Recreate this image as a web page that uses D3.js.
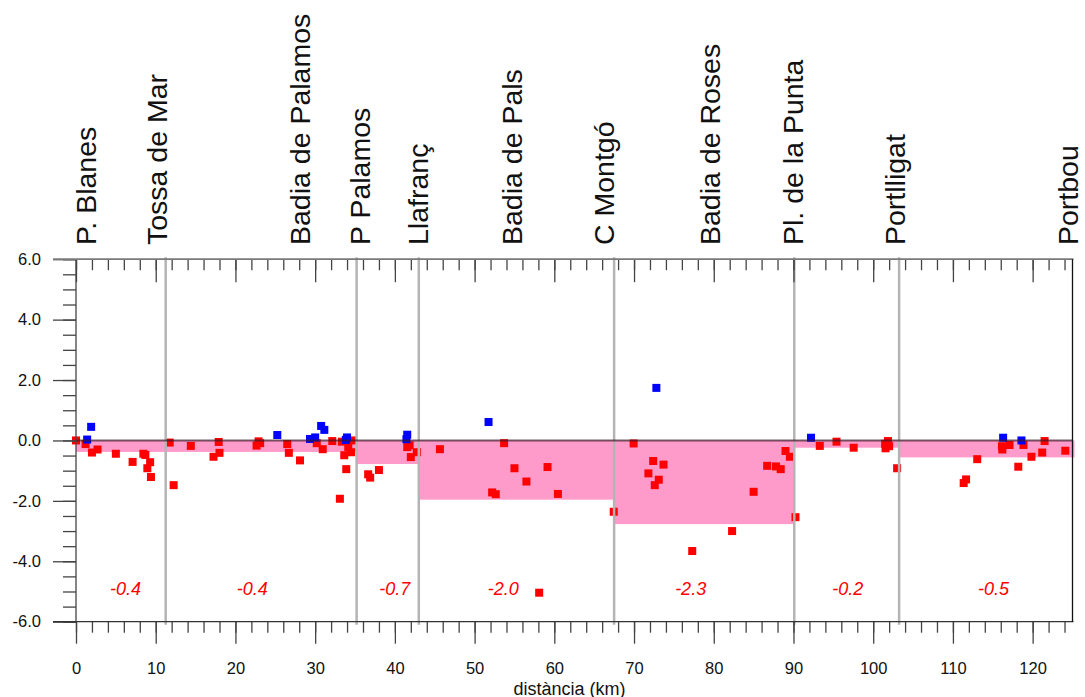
<!DOCTYPE html>
<html>
<head>
<meta charset="utf-8">
<script src="https://cdn.jsdelivr.net/npm/d3@7/dist/d3.min.js"></script>
<style>
  html, body { margin: 0; padding: 0; background: #fff; }
  svg { display: block; font-family: "Liberation Sans", Arial, sans-serif; }
</style>
</head>
<body>
<svg id="chart" width="1085" height="697"></svg>
<script>
// Place names along the coast and their distance (km)
const placeNames = ["P. Blanes", "Tossa de Mar", "Badia de Palamos", "P Palamos", "Llafranç",
  "Badia de Pals", "C Montgó", "Badia de Roses", "Pl. de la Punta", "Portlligat", "Portbou"];
const placeKm = [2.5, 11.4, 29.4, 36.9, 44.2, 56.0, 67.5, 80.8, 91.2, 104.0, 125.7];

// Segment boundaries (km)
const boundaryKm = [11.25, 35.2, 43.0, 67.5, 90.1, 103.25];

// Shaded level per stretch: start km, end km, level
const bandStart = [0, 35.2, 43.0, 67.5, 90.1, 103.25];
const bandEnd = [35.2, 43.0, 67.5, 90.1, 103.25, 125];
const bandLevel = [-0.38, -0.78, -1.96, -2.77, -0.24, -0.56];

// Rate written in each segment and where it is written (km)
const rateText = ["-0.4", "-0.4", "-0.7", "-2.0", "-2.3", "-0.2", "-0.5"];
const rateKm = [6.2, 22.1, 40.0, 53.6, 77.1, 96.8, 115.1];

// Negative changes (red)
const lossKm = [0.0, 1.2, 2.0, 2.7, 5.0, 7.1, 8.45, 8.7, 9.3, 8.95, 9.4, 11.75, 12.25, 14.4, 17.9, 18.0, 17.25,
  22.9, 23.1, 22.65, 26.5, 26.7, 28.1, 30.2, 30.95, 32.15, 33.35, 34.6, 34.15, 34.5, 33.65, 33.9, 33.1,
  36.65, 36.9, 38.0, 41.55, 41.85, 42.0, 42.75, 45.65, 53.7, 55.0, 56.5, 59.15, 52.2, 52.65, 60.45, 58.1,
  67.45, 69.95, 72.4, 73.7, 71.8, 73.1, 72.6, 77.3, 82.3, 85.0, 86.7, 87.8, 88.4, 89.0, 89.55, 90.25,
  93.3, 95.4, 97.55, 101.5, 101.85, 101.55, 102.0, 103.0, 113.05, 111.65, 111.35, 116.15, 116.2, 117.1,
  118.85, 118.2, 119.85, 121.2, 121.5, 124.1];
const lossVal = [0.0, -0.12, -0.40, -0.30, -0.44, -0.71, -0.44, -0.48, -0.72, -0.92, -1.21, -0.07, -1.48, -0.18, -0.05, -0.41, -0.54,
  -0.03, -0.09, -0.17, -0.12, -0.41, -0.66, -0.09, -0.29, -0.02, -0.04, 0.0, -0.22, -0.39, -0.49, -0.95, -1.93,
  -1.12, -1.23, -0.98, -0.22, -0.16, -0.55, -0.39, -0.29, -0.09, -0.92, -1.36, -0.88, -1.72, -1.78, -1.77, -5.04,
  -2.36, -0.10, -0.68, -0.80, -1.09, -1.30, -1.48, -3.66, -3.00, -1.70, -0.84, -0.86, -0.95, -0.35, -0.54, -2.54,
  -0.18, -0.04, -0.24, -0.11, -0.02, -0.26, -0.19, -0.92, -0.62, -1.29, -1.41, -0.19, -0.30, -0.15,
  -0.15, -0.87, -0.54, -0.40, -0.02, -0.34];

// Positive changes (blue)
const gainKm = [1.4, 1.9, 25.25, 29.35, 30.0, 30.75, 31.15, 34.0, 33.85, 41.55, 41.45, 51.75, 72.8, 92.2, 116.3, 118.6];
const gainVal = [0.03, 0.45, 0.18, 0.05, 0.10, 0.48, 0.35, 0.10, 0.02, 0.19, 0.04, 0.61, 1.74, 0.09, 0.09, 0.00];

const xMajor = d3.range(0, 121, 10);
const xMinor = d3.range(0, 125, 2);
const yMajor = [-6, -4, -2, 0, 2, 4, 6];
const yMinor = d3.range(-6, 6.01, 0.5);

const svg = d3.select("#chart");
const plotLeft = 76, plotRight = 1072.5, plotTop = 259.2, plotBottom = 621.7;

const x = d3.scaleLinear().domain([0, 125]).range([plotLeft, plotRight]);
const y = d3.scaleLinear().domain([-6, 6]).range([plotBottom, plotTop]);

// Shaded bands from zero down to each stretch's level
svg.append("g").selectAll("rect")
  .data(bandLevel.map((v, i) => ({ a: bandStart[i], b: bandEnd[i], v })))
  .join("rect")
  .attr("x", d => x(d.a))
  .attr("width", d => x(d.b) - x(d.a) + (d.b === 125 ? 2 : 0))
  .attr("y", y(0))
  .attr("height", d => y(d.v) - y(0))
  .attr("fill", "#ff9bcb");

// Points
const sq = 8;
svg.append("g").selectAll("rect")
  .data(lossKm.map((k, i) => [k, lossVal[i]]))
  .join("rect")
  .attr("x", d => x(d[0]) - sq / 2)
  .attr("y", d => y(d[1]) - sq / 2)
  .attr("width", sq).attr("height", sq)
  .attr("fill", "#ff0000");
svg.append("g").selectAll("rect")
  .data(gainKm.map((k, i) => [k, gainVal[i]]))
  .join("rect")
  .attr("x", d => x(d[0]) - sq / 2)
  .attr("y", d => y(d[1]) - sq / 2)
  .attr("width", sq).attr("height", sq)
  .attr("fill", "#0000ff");

// Segment dividers
svg.append("g").selectAll("line")
  .data(boundaryKm)
  .join("line")
  .attr("x1", d => x(d)).attr("x2", d => x(d))
  .attr("y1", plotTop - 2).attr("y2", plotBottom + 3)
  .attr("stroke", "#b4b4b4").attr("stroke-width", 2.5);

// Zero line
svg.append("line")
  .attr("x1", plotLeft).attr("x2", plotRight)
  .attr("y1", y(0)).attr("y2", y(0))
  .attr("stroke", "#3a1a28").attr("stroke-opacity", 0.7).attr("stroke-width", 2);

// Axes
const tickColor = "#444";
const fmt = d => d.toFixed(1);

// left: outward ticks
const gLeftMinor = svg.append("g").attr("transform", `translate(${plotLeft},0)`)
  .call(d3.axisLeft(y).tickValues(yMinor).tickSize(13).tickFormat(""));
const gLeft = svg.append("g").attr("transform", `translate(${plotLeft},0)`)
  .call(d3.axisLeft(y).tickValues(yMajor).tickSize(23).tickPadding(12).tickFormat(fmt));

// bottom: outward ticks
const gBotMinor = svg.append("g").attr("transform", `translate(0,${plotBottom})`)
  .call(d3.axisBottom(x).tickValues(xMinor).tickSize(11).tickFormat(""));
const gBot = svg.append("g").attr("transform", `translate(0,${plotBottom})`)
  .call(d3.axisBottom(x).tickValues(xMajor).tickSize(22).tickPadding(19).tickFormat(d3.format("d")));

// top: inward ticks
const gTopMinor = svg.append("g").attr("transform", `translate(0,${plotTop})`)
  .call(d3.axisBottom(x).tickValues(xMinor).tickSize(11).tickFormat(""));
const gTop = svg.append("g").attr("transform", `translate(0,${plotTop})`)
  .call(d3.axisBottom(x).tickValues(xMajor).tickSize(23).tickFormat(""));

[gLeftMinor, gLeft, gBotMinor, gBot, gTopMinor, gTop].forEach(g => {
  g.select(".domain").remove();
  g.selectAll(".tick line").attr("stroke", tickColor).attr("stroke-width", 1.3);
  g.selectAll("text").attr("fill", "#111").attr("font-size", 16.5)
    .attr("font-family", "'Liberation Sans', Arial, sans-serif");
});

// Frame
svg.append("line").attr("x1", plotLeft).attr("x2", plotLeft).attr("y1", plotTop).attr("y2", plotBottom)
  .attr("stroke", "#444").attr("stroke-width", 1.3);
svg.append("line").attr("x1", plotLeft - 23).attr("x2", plotRight + 1).attr("y1", plotTop).attr("y2", plotTop)
  .attr("stroke", "#7a7a7a").attr("stroke-width", 1.8);
svg.append("line").attr("x1", plotLeft - 23).attr("x2", plotRight + 1).attr("y1", plotBottom).attr("y2", plotBottom)
  .attr("stroke", "#333").attr("stroke-width", 1.3);
svg.append("line").attr("x1", plotRight).attr("x2", plotRight).attr("y1", plotTop).attr("y2", plotBottom)
  .attr("stroke", "#111").attr("stroke-width", 1.3);

// Axis title
svg.append("text")
  .attr("x", 569.5).attr("y", 694.5)
  .attr("text-anchor", "middle")
  .attr("font-size", 18).attr("fill", "#111")
  .text("distància (km)");

// Segment rates
svg.append("g").selectAll("text")
  .data(rateText.map((t, i) => ({ t, k: rateKm[i] })))
  .join("text")
  .attr("x", d => x(d.k)).attr("y", y(-5.1))
  .attr("text-anchor", "middle")
  .attr("font-size", 18).attr("font-style", "italic")
  .attr("fill", "#ff0000")
  .text(d => d.t);

// Place names
svg.append("g").selectAll("text")
  .data(placeNames.map((n, i) => ({ n, k: placeKm[i] })))
  .join("text")
  .attr("transform", d => `translate(${x(d.k)},245) rotate(-90)`)
  .attr("font-size", 28.5).attr("fill", "#111")
  .text(d => d.n);
</script>
</body>
</html>
